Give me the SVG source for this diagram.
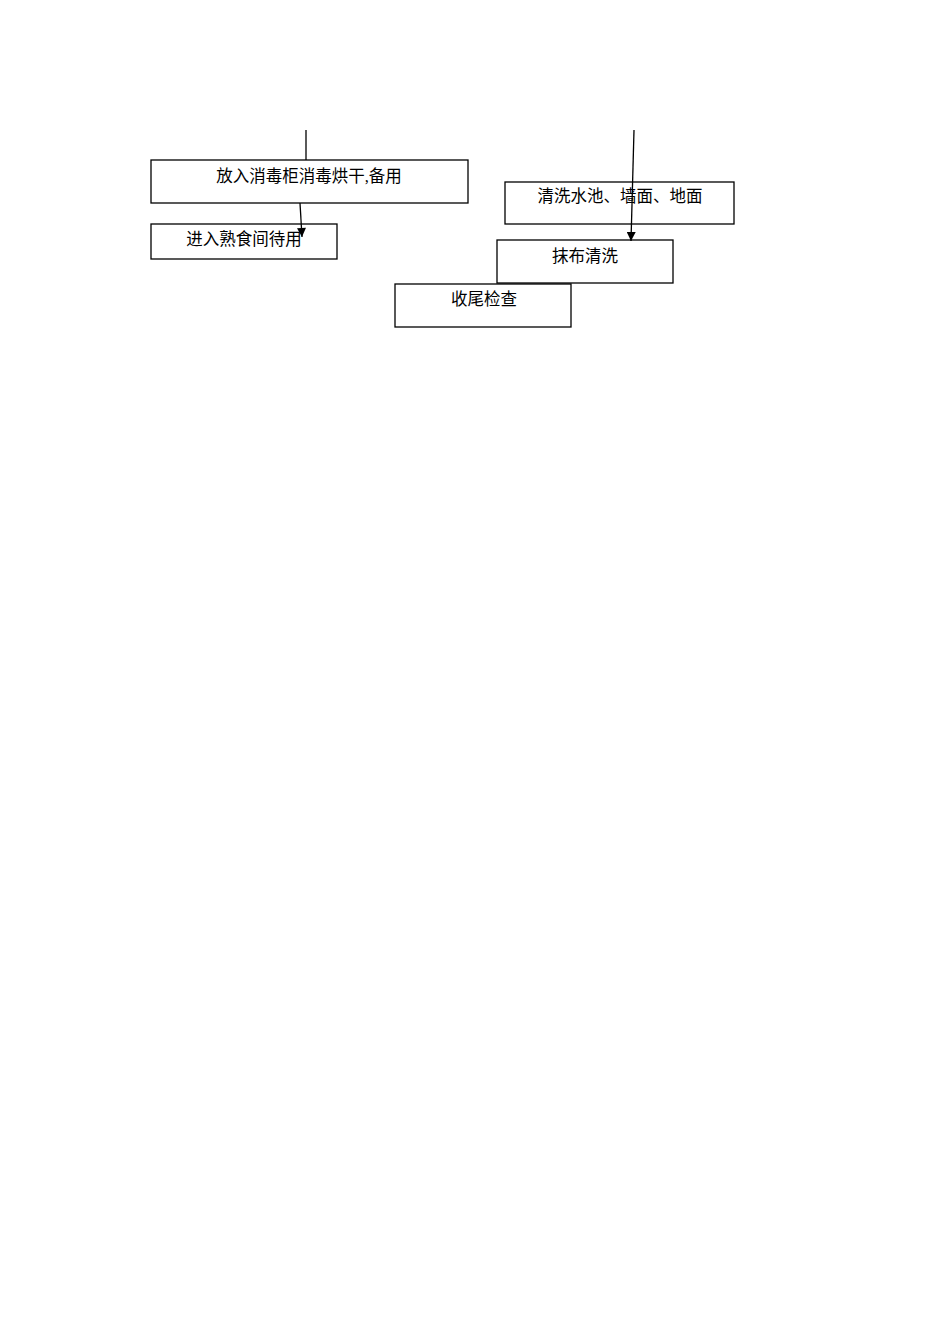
<svg xmlns="http://www.w3.org/2000/svg" width="950" height="1344" viewBox="0 0 950 1344">
<style>
.box{fill:#fff;stroke:#000;stroke-width:1.3}
.t{font-family:"Liberation Serif","Noto Sans CJK SC",serif;font-size:16.5px;fill:#000;text-anchor:middle}
.c{stroke:#000;stroke-width:1.3;fill:none}
</style>
<defs>
<marker id="ah" viewBox="0 0 10 10" refX="10" refY="5" markerWidth="10" markerHeight="9" markerUnits="userSpaceOnUse" orient="auto"><path d="M0,0 L10,5 L0,10 z" fill="#000"/></marker>
</defs>
<rect width="950" height="1344" fill="#fff"/>
<g id="n1"><rect class="box" x="151" y="160" width="317" height="43"/><text class="t" x="309" y="182">放入消毒柜消毒烘干,备用</text></g>
<g id="n2"><rect class="box" x="151" y="224" width="186" height="35"/><text class="t" x="244" y="245">进入熟食间待用</text></g>
<g id="n3"><rect class="box" x="505" y="182" width="229" height="42"/><text class="t" x="620" y="202">清洗水池、墙面、地面</text></g>
<g id="n4"><rect class="box" x="497" y="240" width="176" height="43"/><text class="t" x="585" y="262">抹布清洗</text></g>
<g id="n5"><rect class="box" x="395" y="284" width="176" height="43"/><text class="t" x="484" y="305">收尾检查</text></g>
<g id="connectors">
<line class="c" x1="306" y1="130" x2="306" y2="160"/>
<line class="c" x1="300" y1="203" x2="302" y2="237" marker-end="url(#ah)"/>
<line class="c" x1="634" y1="130" x2="631" y2="241" marker-end="url(#ah)"/>
</g>
</svg>
